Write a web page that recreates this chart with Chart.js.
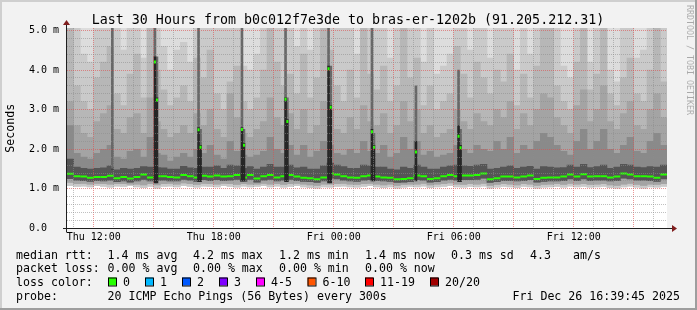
<!DOCTYPE html>
<html>
<head>
<meta charset="utf-8">
<title>SmokePing - b0c012f7e3de to bras-er-1202b</title>
<script src="https://cdn.jsdelivr.net/npm/chart.js"></script>
<style>
  html, body { margin: 0; padding: 0; background: #f2f2f2; }
  canvas { display: block; }
</style>
</head>
<body>
<canvas id="smoke" width="697" height="310"></canvas>
<script>
// time axis in hours since Thu 00:00, graph shows the last 30 hours
const startHour = 10.6625;   // Thu 10:39:45
const endHour = 40.6625;     // Fri 16:39:45
const stepHours = 1 / 3;     // one smoke column per 20 minutes

const tickHours = [12, 18, 24, 30, 36];
const tickLabels = ['Thu 12:00', 'Thu 18:00', 'Fri 00:00', 'Fri 06:00', 'Fri 12:00'];
const yTickValues = [0, 1, 2, 3, 4, 5];
const yTickLabels = ['0.0  ', '1.0 m', '2.0 m', '3.0 m', '4.0 m', '5.0 m'];

// median rtt (ms) per column
const medianRtt = [
  1.38, 1.32, 1.31, 1.28, 1.30, 1.30, 1.33, 1.27, 1.30, 1.26,
  1.30, 1.36, 1.29, 1.32, 1.32, 1.30, 1.29, 1.35, 1.32, 1.29,
  1.33, 1.31, 1.34, 1.31, 1.32, 1.35, 1.29, 1.35, 1.26, 1.32,
  1.35, 1.29, 1.32, 1.35, 1.31, 1.28, 1.27, 1.24, 1.29, 1.39,
  1.36, 1.32, 1.29, 1.28, 1.32, 1.34, 1.31, 1.29, 1.28, 1.24,
  1.25, 1.27, 1.34, 1.32, 1.25, 1.27, 1.32, 1.35, 1.32, 1.34,
  1.34, 1.35, 1.39, 1.24, 1.27, 1.31, 1.31, 1.29, 1.31, 1.34,
  1.25, 1.28, 1.29, 1.29, 1.31, 1.36, 1.31, 1.37, 1.31, 1.32,
  1.32, 1.29, 1.31, 1.39, 1.36, 1.32, 1.32, 1.31, 1.28, 1.36
];

// smoke: lowest ping
const pingMin = [
  1.08, 1.06, 1.07, 1.05, 1.08, 1.06, 1.04, 1.07, 1.06, 1.08,
  1.05, 1.03, 1.06, 1.02, 1.06, 1.07, 1.05, 1.08, 1.06, 1.04,
  1.07, 1.06, 1.05, 1.08, 1.06, 1.04, 1.07, 1.05, 1.06, 1.08,
  1.05, 1.07, 1.04, 1.06, 1.08, 1.05, 1.03, 1.02, 1.05, 1.04,
  1.06, 1.07, 1.05, 1.04, 1.06, 1.08, 1.05, 1.03, 1.05, 1.02,
  1.04, 1.06, 1.05, 1.07, 1.03, 1.05, 1.06, 1.08, 1.05, 1.04,
  1.06, 1.05, 1.07, 1.02, 1.04, 1.06, 1.05, 1.03, 1.06, 1.05,
  1.02, 1.04, 1.05, 1.06, 1.04, 1.07, 1.05, 1.06, 1.04, 1.05,
  1.06, 1.03, 1.02, 1.05, 1.07, 1.04, 1.02, 1.05, 1.04, 1.06
];

// smoke: lower edge of the mid grey bands
const pingLow = [
  1.16, 1.13, 1.14, 1.12, 1.14, 1.13, 1.12, 1.13, 1.13, 1.12,
  1.12, 1.10, 1.13, 1.10, 1.13, 1.14, 1.12, 1.15, 1.13, 1.11,
  1.14, 1.13, 1.12, 1.14, 1.13, 1.11, 1.13, 1.12, 1.12, 1.14,
  1.12, 1.13, 1.11, 1.13, 1.14, 1.12, 1.10, 1.09, 1.12, 1.12,
  1.13, 1.14, 1.12, 1.11, 1.13, 1.14, 1.12, 1.10, 1.12, 1.09,
  1.11, 1.12, 1.12, 1.14, 1.10, 1.12, 1.13, 1.15, 1.12, 1.11,
  1.13, 1.12, 1.14, 1.09, 1.11, 1.13, 1.12, 1.10, 1.13, 1.12,
  1.09, 1.11, 1.12, 1.13, 1.11, 1.14, 1.12, 1.13, 1.11, 1.12,
  1.13, 1.10, 1.09, 1.12, 1.14, 1.11, 1.09, 1.12, 1.11, 1.13
];

// smoke: lower edge of the dark core
const pingDark = [
  1.26, 1.22, 1.21, 1.19, 1.21, 1.20, 1.22, 1.18, 1.20, 1.17,
  1.20, 1.24, 1.20, 1.22, 1.22, 1.20, 1.20, 1.24, 1.22, 1.19,
  1.23, 1.21, 1.23, 1.21, 1.22, 1.24, 1.19, 1.24, 1.17, 1.22,
  1.24, 1.20, 1.22, 1.24, 1.21, 1.19, 1.18, 1.16, 1.20, 1.27,
  1.25, 1.22, 1.20, 1.19, 1.22, 1.23, 1.21, 1.20, 1.19, 1.16,
  1.17, 1.18, 1.23, 1.22, 1.17, 1.18, 1.22, 1.24, 1.22, 1.23,
  1.23, 1.24, 1.27, 1.16, 1.18, 1.21, 1.21, 1.20, 1.21, 1.23,
  1.17, 1.19, 1.20, 1.20, 1.21, 1.25, 1.21, 1.25, 1.21, 1.22,
  1.22, 1.20, 1.21, 1.27, 1.25, 1.22, 1.22, 1.21, 1.19, 1.25
];

// smoke: upper edges, from the dark core outwards
const ping13 = [
  1.75, 1.55, 1.52, 1.50, 1.52, 1.53, 1.58, 1.48, 1.52, 1.50,
  1.52, 1.56, 1.55, 1.54, 1.53, 1.50, 1.50, 1.57, 1.53, 1.52,
  1.55, 1.55, 1.58, 1.52, 1.60, 1.58, 1.52, 1.56, 1.50, 1.55,
  1.62, 1.55, 1.55, 1.60, 1.53, 1.55, 1.50, 1.50, 1.58, 1.65,
  1.60, 1.56, 1.52, 1.52, 1.60, 1.58, 1.55, 1.55, 1.50, 1.48,
  1.55, 1.52, 1.60, 1.55, 1.50, 1.50, 1.55, 1.58, 1.60, 1.58,
  1.57, 1.60, 1.62, 1.50, 1.52, 1.55, 1.58, 1.52, 1.55, 1.57,
  1.50, 1.56, 1.55, 1.53, 1.54, 1.60, 1.55, 1.62, 1.54, 1.56,
  1.60, 1.52, 1.55, 1.62, 1.60, 1.55, 1.54, 1.56, 1.55, 1.60
];

const ping15 = [
  2.60, 1.90, 1.80, 1.75, 1.90, 2.00, 2.10, 1.80, 1.75, 1.95,
  2.00, 1.80, 2.30, 1.90, 1.85, 1.70, 1.80, 1.90, 1.80, 2.00,
  1.90, 2.10, 1.85, 1.75, 2.20, 1.95, 1.85, 1.80, 1.85, 1.95,
  2.30, 2.00, 1.90, 2.10, 1.85, 2.10, 1.80, 1.95, 2.20, 2.10,
  1.90, 1.85, 2.00, 1.90, 2.20, 1.95, 1.90, 2.10, 1.80, 1.90,
  2.30, 2.00, 2.20, 1.85, 1.95, 1.80, 1.85, 1.90, 2.10, 2.00,
  1.90, 2.10, 2.00, 1.95, 2.20, 2.00, 2.30, 1.90, 2.10, 2.00,
  2.20, 2.40, 2.30, 2.10, 1.95, 1.85, 2.20, 2.50, 2.00, 2.20,
  2.50, 2.00, 1.90, 2.10, 2.30, 1.95, 1.90, 2.20, 2.40, 2.10
];

const ping17 = [
  3.2, 2.6, 2.4, 2.3, 2.7, 2.9, 3.1, 2.5, 2.4, 2.8,
  2.9, 2.4, 3.3, 2.7, 2.5, 2.3, 2.4, 2.6, 2.4, 2.9,
  2.6, 3.0, 2.5, 2.3, 3.4, 2.8, 2.4, 2.3, 2.5, 2.7,
  3.3, 2.8, 2.6, 2.9, 2.5, 3.0, 2.4, 2.6, 3.2, 3.0,
  2.5, 2.4, 2.8, 2.5, 3.1, 2.7, 2.6, 2.9, 2.4, 2.6,
  3.2, 2.7, 3.0, 2.4, 2.6, 2.3, 2.4, 2.5, 3.0, 2.7,
  2.5, 2.9, 2.7, 2.6, 3.0, 2.8, 3.2, 2.5, 2.9, 2.6,
  3.0, 3.4, 3.3, 2.8, 2.6, 2.4, 3.1, 3.5, 2.7, 3.0,
  3.6, 2.7, 2.5, 2.9, 3.2, 2.6, 2.5, 3.0, 3.4, 2.8
];

// 5.5 = above the top of the graph
const ping18 = [
  5.5, 3.6, 3.2, 3.0, 3.8, 4.2, 4.6, 3.4, 3.1, 3.9,
  4.4, 3.3, 5.5, 4.0, 3.5, 3.1, 3.3, 3.6, 3.2, 4.3,
  3.8, 4.5, 3.4, 3.0, 3.7, 4.1, 3.2, 3.0, 3.3, 4.0,
  5.5, 4.2, 3.6, 3.9, 3.4, 4.4, 3.3, 3.8, 5.5, 4.5,
  3.6, 3.2, 4.0, 3.3, 5.5, 3.9, 3.5, 4.1, 3.2, 3.6,
  5.5, 3.8, 4.3, 3.1, 3.6, 3.0, 3.2, 3.4, 4.6, 3.9,
  3.3, 4.2, 3.8, 3.4, 4.0, 3.7, 4.4, 3.1, 3.9, 3.3,
  4.1, 5.5, 5.5, 3.6, 3.2, 3.0, 4.2, 5.5, 3.5, 3.9,
  5.5, 3.4, 3.1, 3.8, 4.3, 3.4, 3.2, 4.0, 5.5, 3.7
];

const ping19 = [
  5.5, 5.5, 4.4, 4.2, 5.5, 5.5, 5.5, 5.5, 4.5, 5.5,
  5.5, 4.3, 5.5, 5.5, 4.6, 4.0, 4.5, 4.7, 4.2, 5.5,
  5.5, 5.5, 5.5, 5.5, 5.5, 5.5, 4.1, 4.0, 4.4, 5.5,
  5.5, 5.5, 5.5, 5.5, 4.6, 5.5, 4.5, 5.5, 5.5, 5.5,
  5.5, 5.5, 5.5, 4.4, 5.5, 5.5, 5.5, 5.5, 4.3, 5.5,
  5.5, 5.5, 5.5, 4.2, 5.5, 3.9, 4.1, 4.4, 5.5, 5.5,
  4.5, 5.5, 5.5, 4.3, 5.5, 5.5, 5.5, 4.0, 5.5, 4.4,
  5.5, 5.5, 5.5, 5.5, 4.1, 3.8, 5.5, 5.5, 4.2, 5.5,
  5.5, 4.0, 3.7, 5.5, 5.5, 4.3, 4.5, 5.5, 5.5, 5.5
];

const pingMax = [
  5.5, 5.5, 5.5, 5.5, 5.5, 5.5, 5.5, 5.5, 5.5, 5.5,
  5.5, 5.5, 5.5, 5.5, 5.5, 5.5, 5.5, 5.5, 5.5, 5.5,
  5.5, 5.5, 5.5, 5.5, 5.5, 5.5, 5.5, 5.5, 5.5, 5.5,
  5.5, 5.5, 5.5, 5.5, 5.5, 5.5, 5.5, 5.5, 5.5, 5.5,
  5.5, 5.5, 5.5, 5.5, 5.5, 5.5, 5.5, 5.5, 5.5, 5.5,
  5.5, 5.5, 5.5, 5.5, 5.5, 5.5, 5.5, 5.5, 5.5, 5.5,
  5.5, 5.5, 5.5, 5.5, 5.5, 5.5, 5.5, 5.5, 5.5, 5.5,
  5.5, 5.5, 5.5, 5.5, 5.5, 5.5, 5.5, 5.5, 5.5, 5.5,
  5.5, 5.5, 5.5, 5.5, 5.5, 5.5, 5.5, 5.5, 5.5, 5.5
];

// short 5 minute spikes (hours since Thu 00:00)
const spikeHours   = [12.93, 15.06, 15.16, 17.24, 17.34, 19.41, 19.51, 21.59, 21.68, 23.74, 23.85, 25.91, 26.01, 28.11, 30.24, 30.34];
const spikeLow     = [1.50, 1.15, 1.15, 1.18, 1.18, 1.20, 1.20, 1.18, 1.18, 1.15, 1.15, 1.20, 1.20, 1.20, 1.18, 1.18];
const spikeDarkTop = [1.50, 4.33, 3.30, 2.55, 2.10, 2.55, 2.15, 3.30, 2.75, 4.10, 3.10, 2.50, 2.10, 2.20, 2.60, 2.10];
const spikeTop     = [5.5, 5.5, 4.33, 5.5, 2.5, 5.5, 2.5, 5.5, 3.3, 5.5, 4.1, 5.5, 2.4, 3.6, 4.0, 2.5];
const spikeMedian  = [null, 4.20, 3.24, 2.49, 2.05, 2.50, 2.10, 3.26, 2.70, 4.03, 3.06, 2.44, 2.05, 1.93, 2.33, 2.04];

const lossLabels = ['0', '1', '2', '3', '4-5', '6-10', '11-19', '20/20'];
const lossColors = ['#26ff00', '#00b8ff', '#0059ff', '#7e00ff', '#ff00ff', '#ff5500', '#ff0000', '#a10000'];

const MONO = '"DejaVu Sans Mono", "Liberation Mono", monospace';
const majorGrid = 'rgba(222, 79, 79, 0.6)';
const minorGrid = 'rgba(140, 140, 140, 0.55)';

const stepTimes = medianRtt.map((v, i) => startHour + (i + 0.5) * stepHours);

// one grid line per full hour
const gridHours = [];
for (let h = Math.ceil(startHour); h <= endHour; h++) gridHours.push(h);

function band(lower, upper) {
    return stepTimes.map((t, i) => ({ x: t, y: [lower[i], upper[i]] }));
}

const smokeBands = [
    { lower: pingMin, upper: pingMax, color: '#dddddd' },
    { lower: pingMin, upper: ping19, color: '#cacaca' },
    { lower: pingLow, upper: ping18, color: '#b7b7b7' },
    { lower: pingLow, upper: ping17, color: '#a4a4a4' },
    { lower: pingDark, upper: ping15, color: '#8a8a8a' },
    { lower: pingDark, upper: ping13, color: '#555555' }
];

const datasets = smokeBands.map((b, k) => ({
    type: 'bar',
    data: band(b.lower, b.upper),
    backgroundColor: b.color,
    order: 20 - k
}));

datasets.push({
    type: 'line',
    data: stepTimes.map((t, i) => ({ x: t, y: medianRtt[i] })),
    showLine: false,
    pointStyle: 'line',
    pointRadius: 3.34,
    pointBorderWidth: 2,
    pointBorderColor: lossColors[0],
    order: 3
});

datasets.push({
    type: 'bar',
    xAxisID: 'x2',
    data: spikeHours.map((t, i) => ({ x: t, y: [spikeLow[i], spikeDarkTop[i]] })),
    backgroundColor: '#262626',
    barThickness: 2,
    order: 2
});

datasets.push({
    type: 'bar',
    xAxisID: 'x2',
    data: spikeHours.map((t, i) => ({ x: t, y: [spikeDarkTop[i], spikeTop[i]] })),
    backgroundColor: '#686868',
    barThickness: 2,
    order: 2
});

datasets.push({
    type: 'line',
    data: spikeHours.map((t, i) => ({ x: t, y: spikeMedian[i] })),
    showLine: false,
    pointStyle: 'line',
    pointRadius: 1,
    pointBorderWidth: 3,
    pointBorderColor: lossColors[0],
    order: 0
});

function isWhole(v) {
    return Math.abs(v - Math.round(v)) < 1e-6;
}

// rrdtool style frame, axes, title and legend
const rrdFrame = {
    id: 'rrdFrame',
    beforeDraw(chart) {
        const { ctx, chartArea: a, width, height } = chart;
        ctx.save();
        ctx.fillStyle = '#f2f2f2';
        ctx.fillRect(0, 0, width, height);
        ctx.fillStyle = '#cfcfcf';
        ctx.fillRect(0, 0, width, 2);
        ctx.fillRect(0, 0, 2, height);
        ctx.fillStyle = '#9e9e9e';
        ctx.fillRect(0, height - 2, width, 2);
        ctx.fillRect(width - 2, 0, 2, height);
        ctx.fillStyle = '#ffffff';
        ctx.fillRect(a.left, a.top, a.right - a.left, a.bottom - a.top);
        ctx.restore();
    },
    afterDraw(chart) {
        const { ctx, chartArea: a } = chart;
        const y0 = chart.scales.y.getPixelForValue(0);
        const xAxis = a.left - 0.5;

        ctx.save();
        // axes
        ctx.strokeStyle = '#1f1f1f';
        ctx.lineWidth = 1;
        ctx.beginPath();
        ctx.moveTo(a.left - 4, y0);
        ctx.lineTo(a.right + 6, y0);
        ctx.moveTo(xAxis, y0 + 4);
        ctx.lineTo(xAxis, a.top - 4);
        ctx.stroke();

        ctx.fillStyle = '#801f1f';
        ctx.beginPath();
        ctx.moveTo(a.right + 10, y0);
        ctx.lineTo(a.right + 5, y0 - 3.5);
        ctx.lineTo(a.right + 5, y0 + 3.5);
        ctx.closePath();
        ctx.fill();
        ctx.beginPath();
        ctx.moveTo(xAxis, a.top - 8);
        ctx.lineTo(xAxis - 3.5, a.top - 3);
        ctx.lineTo(xAxis + 3.5, a.top - 3);
        ctx.closePath();
        ctx.fill();

        // title
        ctx.fillStyle = '#000';
        ctx.font = '13.3px ' + MONO;
        ctx.textAlign = 'center';
        ctx.textBaseline = 'alphabetic';
        ctx.fillText('Last 30 Hours from b0c012f7e3de to bras-er-1202b (91.205.212.31)', 348, 24);

        // vertical axis title
        ctx.save();
        ctx.translate(14, (a.top + y0) / 2);
        ctx.rotate(-Math.PI / 2);
        ctx.font = '11.6px ' + MONO;
        ctx.fillText('Seconds', 0, 0);
        ctx.restore();

        // watermark
        ctx.save();
        ctx.translate(693, 5);
        ctx.rotate(Math.PI / 2);
        ctx.font = '8.3px ' + MONO;
        ctx.textAlign = 'left';
        ctx.textBaseline = 'top';
        ctx.fillStyle = 'rgba(0, 0, 0, 0.3)';
        ctx.fillText('RRDTOOL / TOBI OETIKER', 0, 0);
        ctx.restore();

        // legend
        ctx.font = '11.6px ' + MONO;
        ctx.textAlign = 'left';
        ctx.fillStyle = '#000';
        const rows = [
            [258.5, [[16, 'median rtt:'], [107.6, '1.4 ms avg'], [193, '4.2 ms max'], [279, '1.2 ms min'],
                     [365, '1.4 ms now'], [451, '0.3 ms sd'], [530, '4.3'], [573, 'am/s']]],
            [272.4, [[16, 'packet loss:'], [107.6, '0.00 % avg'], [193, '0.00 % max'], [279, '0.00 % min'],
                     [365, '0.00 % now']]],
            [286.3, [[16, 'loss color:']]],
            [300.2, [[16, 'probe:'], [107.6, '20 ICMP Echo Pings (56 Bytes) every 300s']]]
        ];
        rows.forEach(([y, parts]) => parts.forEach(([x, s]) => ctx.fillText(s, x, y)));

        const boxX = [108, 145, 182, 219, 256, 307.5, 365, 430];
        lossLabels.forEach((lbl, i) => {
            ctx.fillStyle = lossColors[i];
            ctx.fillRect(boxX[i], 277.5, 8, 8);
            ctx.strokeStyle = '#000';
            ctx.strokeRect(boxX[i] + 0.5, 277.5 + 0.5, 8, 8);
            ctx.fillStyle = '#000';
            ctx.fillText(lbl, boxX[i] + 15, 286.3);
        });

        ctx.textAlign = 'right';
        ctx.fillText('Fri Dec 26 16:39:45 2025', 680, 300.2);
        ctx.restore();
    }
};

new Chart(document.getElementById('smoke'), {
    type: 'bar',
    data: { datasets: datasets },
    plugins: [rrdFrame],
    options: {
        responsive: false,
        animation: false,
        devicePixelRatio: 1,
        events: [],
        layout: { padding: { top: 28, right: 30, bottom: 61.5, left: 0 } },
        datasets: {
            bar: { grouped: false, categoryPercentage: 1, barPercentage: 1, borderWidth: 0 }
        },
        plugins: {
            legend: { display: false },
            tooltip: { enabled: false },
            title: { display: false }
        },
        scales: {
            x: {
                type: 'linear',
                offset: false,
                min: startHour,
                max: endHour,
                afterFit: function(scale) { scale.height = 20; },
                afterBuildTicks: function(scale) {
                    scale.ticks = gridHours.map(h => ({ value: h }));
                },
                border: { display: false, dash: [1, 1] },
                grid: {
                    z: 1,
                    offset: false,
                    drawTicks: false,
                    color: function(c) {
                        if (!c.tick) return minorGrid;
                        return c.tick.value % 3 === 0 ? majorGrid : minorGrid;
                    }
                },
                ticks: {
                    autoSkip: false,
                    maxRotation: 0,
                    minRotation: 0,
                    padding: 3,
                    color: '#000',
                    font: { family: MONO, size: 10 },
                    callback: function(value) {
                        const k = tickHours.indexOf(value);
                        return k >= 0 ? tickLabels[k] : '';
                    }
                }
            },
            x2: {
                type: 'linear',
                display: false,
                offset: false,
                min: startHour,
                max: endHour
            },
            y: {
                min: 0,
                max: 5.06,
                afterFit: function(scale) { scale.width = 67; },
                border: { display: false, dash: [1, 1] },
                grid: {
                    z: 1,
                    drawTicks: false,
                    color: function(c) {
                        if (!c.tick) return minorGrid;
                        return isWhole(c.tick.value) ? majorGrid : minorGrid;
                    }
                },
                ticks: {
                    stepSize: 0.2,
                    includeBounds: false,
                    autoSkip: false,
                    padding: 8,
                    color: '#000',
                    font: { family: MONO, size: 10 },
                    callback: function(value) {
                        if (!isWhole(value)) return '';
                        const k = yTickValues.indexOf(Math.round(value));
                        return k >= 0 ? yTickLabels[k] : '';
                    }
                }
            }
        }
    }
});
</script>
</body>
</html>
